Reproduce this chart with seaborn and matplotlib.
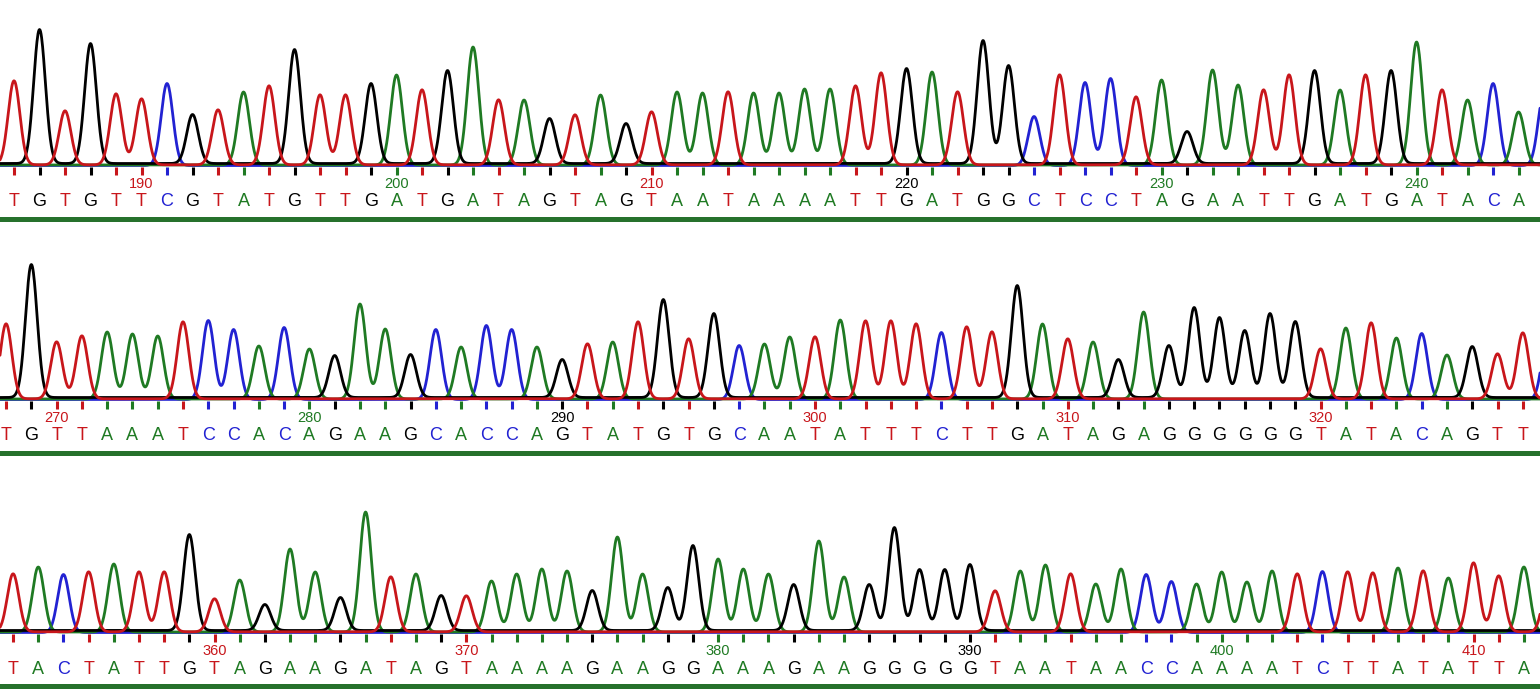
import numpy as np
import pandas as pd
import matplotlib
matplotlib.use("Agg")
import matplotlib.pyplot as plt
import seaborn as sns

# ── Colours ───────────────────────────────────────────────
BASE_COLORS = {"A": "#1f7a23", "C": "#2222d2", "G": "#000000", "T": "#c8161b"}
DRAW_ORDER = ["C", "A", "G", "T"]
BAR_COLOR = "#26712c"

# ── Data: called bases and peak heights per row ───────────
ROW1_START = 185
ROW1_SEQ = "TGTGTTCGTATGTTGATGATAGTAGTAATAAAATTGATGGCTCCTAGAATTGATGATACAC"
ROW1_HEIGHTS = [84, 134, 54, 120, 71, 66, 82, 49, 55, 73,
                79, 114, 70, 70, 80, 90, 75, 93, 118, 65,
                65, 45, 50, 70, 40, 53, 73, 72, 73, 72,
                72, 76, 76, 79, 92, 95, 93, 73, 123, 98,
                49, 90, 83, 87, 68, 85, 32, 95, 80, 75,
                90, 93, 75, 90, 93, 123, 75, 65, 82, 53,
                73]

ROW2_START = 268
ROW2_SEQ = "TGTTAAATCCACAGAAGCACCAGTATGTGCAATATTTCTTGATAGAGGGGGGTATACAGTTC"
ROW2_HEIGHTS = [75, 133, 57, 63, 67, 65, 63, 77, 79, 70,
                53, 72, 50, 42, 95, 70, 43, 70, 52, 74,
                70, 52, 38, 55, 57, 77, 98, 60, 84, 54,
                55, 62, 62, 79, 78, 78, 75, 67, 72, 67,
                112, 75, 60, 57, 38, 87, 52, 90, 80, 67,
                84, 76, 50, 71, 76, 61, 66, 44, 51, 45,
                66, 70]

ROW3_START = 352
ROW3_SEQ = "TACTATTGTAGAAGATAGTAAAAGAAGGAAAGAAGGGGGTAATAACCAAAATCTTATATTAT"
ROW3_HEIGHTS = [58, 65, 58, 60, 68, 60, 60, 96, 33, 52,
                26, 83, 60, 33, 120, 55, 58, 35, 36, 51,
                58, 63, 61, 40, 95, 58, 43, 85, 73, 63,
                58, 46, 91, 55, 46, 103, 61, 61, 66, 41,
                61, 67, 58, 48, 63, 58, 51, 48, 60, 50,
                61, 58, 61, 60, 59, 64, 61, 54, 69, 56,
                65, 60]

# visible base range of each row
ROW_SPANS = [(184.45, 244.84), (267.76, 328.68), (351.48, 412.64)]
# pixel y of the trace baseline for each row
ROW_BASELINES = [166, 400, 633]

SIGMA = 0.23
BASE_OFFSET = {"A": 1.0, "C": 0.5, "G": 2.5, "T": 1.2}

sns.set_theme(style="white")
plt.rcParams["font.family"] = ["Liberation Sans", "DejaVu Sans"]

W, H = 1540, 700
fig = plt.figure(figsize=(W / 100, H / 100), dpi=100)


def draw_row(baseline_px, start, seq, heights, span):
    ax = fig.add_axes([0, 1 - (baseline_px + 60) / H, 1, 205 / H])
    pos = np.arange(start, start + len(seq))
    bases = np.array(list(seq))
    hts = np.array(heights, dtype=float)

    x = np.linspace(span[0], span[1], 3000)
    frames = []
    for b in DRAW_ORDER:
        m = bases == b
        sig = np.full_like(x, BASE_OFFSET[b])
        for p, h in zip(pos[m], hts[m]):
            sig += h * np.exp(-0.5 * ((x - p) / SIGMA) ** 2)
        frames.append(pd.DataFrame({"x": x, "signal": sig, "base": b}))
    df = pd.concat(frames, ignore_index=True)

    for b in DRAW_ORDER:
        sns.lineplot(data=df[df.base == b], x="x", y="signal", color=BASE_COLORS[b],
                     linewidth=2.0, estimator=None, sort=False, legend=False, ax=ax)

    cols = [BASE_COLORS[b] for b in bases]
    ax.vlines(pos, -9, -1, colors=cols, linewidth=2.2)
    for p, b in zip(pos, bases):
        if p + 0.2 > span[1]:
            continue
        ax.text(p, -36, b, color=BASE_COLORS[b], fontsize=13, ha="center",
                va="center", clip_on=True)
        if p % 10 == 0:
            ax.text(p, -18, str(p), color=BASE_COLORS[b], fontsize=10.5,
                    ha="center", va="center", clip_on=True)
    ax.axhspan(-56, -51, color=BAR_COLOR, lw=0)

    ax.set_xlim(*span)
    ax.set_ylim(-60, 145)
    ax.set_axis_off()
    return ax


draw_row(ROW_BASELINES[0], ROW1_START, ROW1_SEQ, ROW1_HEIGHTS, ROW_SPANS[0])
draw_row(ROW_BASELINES[1], ROW2_START, ROW2_SEQ, ROW2_HEIGHTS, ROW_SPANS[1])
draw_row(ROW_BASELINES[2], ROW3_START, ROW3_SEQ, ROW3_HEIGHTS, ROW_SPANS[2])

fig.savefig("out.png", dpi=100, facecolor="white")
